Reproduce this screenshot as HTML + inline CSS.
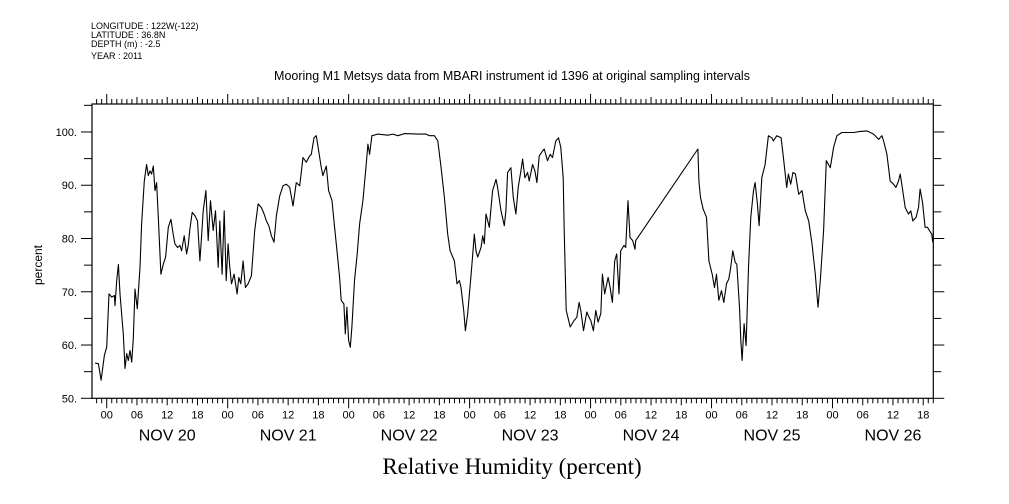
<!DOCTYPE html>
<html><head><meta charset="utf-8"><style>
html,body{margin:0;padding:0;background:#fff;}
svg{display:block;}
text{font-family:"Liberation Sans",sans-serif;fill:#000;}
</style></head><body>
<svg id="chart" width="1009" height="504" viewBox="0 0 1009 504" xmlns="http://www.w3.org/2000/svg">
<g font-size="9">
<text x="91" y="29">LONGITUDE : 122W(-122)</text>
<text x="91" y="38">LATITUDE : 36.8N</text>
<text x="91" y="47">DEPTH (m) : -2.5</text>
<text x="91" y="59">YEAR : 2011</text>
</g>
<text x="512" y="80" text-anchor="middle" font-size="12.5">Mooring M1 Metsys data from MBARI instrument id 1396 at original sampling intervals</text>
<text transform="translate(42,265) rotate(-90)" text-anchor="middle" font-size="12">percent</text>
<text x="512" y="474" text-anchor="middle" font-size="23" style="font-family:'Liberation Serif',serif">Relative Humidity (percent)</text>
<g id="axes"></g>
<g id="series"></g>
</svg>
<script>
const hours = [-2.31,-1.65,-1.12,-0.46,0,0.46,0.99,1.52,1.65,1.98,2.31,2.64,3.30,3.63,3.96,4.29,4.62,4.95,5.28,5.61,6.07,6.60,6.93,7.46,7.92,8.25,8.58,8.91,9.24,9.57,9.90,10.23,10.76,11.22,11.68,12.21,12.74,13.20,13.53,14.06,14.52,14.85,15.38,15.84,16.17,16.50,16.96,17.49,18.02,18.48,18.81,19.14,19.67,20.13,20.59,21.12,21.58,22.11,22.44,22.90,23.30,23.70,24.09,24.42,24.75,25.28,25.87,26.20,26.60,27.06,27.52,28.05,28.71,29.37,30.03,30.69,31.22,31.68,32.15,32.67,33.20,33.66,34.32,34.98,35.64,36.30,36.96,37.62,38.28,38.94,39.60,40.26,40.59,41.12,41.58,42.05,42.57,42.90,43.56,44.03,44.69,45.21,45.74,46.20,46.53,47.06,47.33,47.66,47.99,48.32,48.65,49.17,49.70,50.17,50.83,51.49,51.82,52.15,52.61,53.80,55.78,56.77,57.76,59.08,61.72,63.37,64.03,65.02,65.68,66.34,67.00,67.66,68.12,68.98,69.50,69.97,70.30,70.83,71.16,71.62,72.41,72.94,73.27,73.60,74.26,74.59,74.92,75.25,75.91,76.57,77.23,77.56,78.22,78.88,79.21,79.54,80.20,80.66,81.19,81.65,82.18,82.51,82.97,83.50,83.83,84.49,84.95,85.35,85.81,86.47,86.80,87.46,87.99,88.45,89.11,89.64,90.10,90.56,90.76,90.96,91.16,91.95,92.74,93.27,93.73,94.06,94.59,95.25,95.71,96.04,96.57,97.03,97.49,98.02,98.35,98.81,99.47,99.87,100.33,100.79,101.19,101.65,101.98,102.64,102.97,103.43,103.83,104.36,104.82,104.95,117.29,117.49,117.82,118.35,119.01,119.47,120.13,120.59,120.99,121.45,121.98,122.44,122.97,123.43,123.76,124.22,124.69,125.02,125.54,125.81,126.07,126.47,126.86,127.33,127.79,128.32,128.65,129.11,129.44,129.97,130.63,131.29,131.95,132.28,132.94,133.80,134.26,134.92,135.25,135.71,136.17,136.63,137.29,137.95,138.61,139.27,139.93,140.59,141.12,141.58,142.24,142.77,143.56,144.22,144.88,145.87,148.18,149.50,150.82,152.15,153.14,153.80,154.13,154.79,155.45,156.11,156.57,157.10,157.43,157.76,158.42,159.08,159.54,159.93,160.59,161.06,161.39,161.85,162.38,162.84,163.23,163.70,163.89];
const humidity = [56.6,56.5,53.4,58.1,59.6,69.6,69.0,69.3,67.4,72.1,75.1,69.6,62.1,55.6,58.4,57.1,59.0,56.8,61.2,70.5,66.8,74.6,82.7,90.8,93.9,91.8,92.7,92.1,93.6,89.0,90.5,84.0,73.3,75.2,76.5,82.1,83.6,80.8,79.0,78.3,78.7,77.7,80.5,77.1,78.7,81.8,84.9,84.3,83.3,75.8,80.2,85.2,89.0,79.6,87.1,81.5,85.2,74.6,83.3,73.3,85.2,72.1,79.0,74.6,71.5,73.3,69.6,72.7,71.5,75.8,70.8,71.5,73.0,81.5,86.5,85.8,84.6,83.3,82.4,80.5,79.3,84.3,88.0,89.9,90.2,89.6,86.1,90.5,89.9,95.2,94.3,95.5,95.8,98.9,99.3,96.4,93.3,91.8,93.6,89.0,87.1,82.1,77.1,72.7,68.4,67.7,62.1,67.1,60.9,59.6,63.4,72.1,77.1,82.7,87.1,93.9,97.7,95.8,99.3,99.6,99.4,99.6,99.3,99.7,99.6,99.6,99.3,99.3,98.3,93.3,87.7,80.8,77.7,75.8,71.5,72.1,70.8,66.5,62.7,65.9,74.6,80.8,77.7,76.5,78.3,80.5,79.0,84.6,82.1,89.0,91.1,89.6,85.2,82.4,85.2,92.4,93.3,87.7,84.6,89.6,92.7,94.9,91.4,92.4,90.8,93.9,92.7,90.5,95.5,96.4,96.8,94.6,95.8,95.2,98.3,98.9,97.1,91.4,81.5,74.0,66.5,63.4,64.6,65.2,68.0,66.5,62.7,66.2,65.2,64.6,62.7,66.5,64.3,65.9,73.3,69.6,72.7,70.8,68.0,75.8,77.1,69.6,77.7,78.7,78.3,87.1,80.2,79.6,78.0,79.6,96.8,90.8,87.7,85.5,84.0,75.8,73.3,70.8,73.3,68.4,70.2,68.0,71.5,72.4,74.3,77.7,75.5,75.2,67.1,60.9,57.1,64.0,59.9,74.6,84.0,89.0,90.5,86.5,82.4,91.4,93.9,99.3,98.9,98.3,99.3,98.9,95.2,89.6,92.1,90.2,92.4,92.1,88.3,89.0,85.2,83.3,79.0,73.3,67.1,72.1,81.5,94.6,93.3,97.1,99.3,99.9,99.9,100.1,100.2,99.6,98.6,99.3,98.3,95.8,90.8,90.2,89.6,90.8,92.1,90.2,85.8,84.6,85.2,83.3,84.0,85.8,89.3,86.8,82.1,82.1,81.5,80.8,79.3];
const yTicks = [50,60,70,80,90,100];
const yTickLabels = ["50.","60.","70.","80.","90.","100."];
const hourLabels = ["00","06","12","18"];
const dayLabels = ["NOV 20","NOV 21","NOV 22","NOV 23","NOV 24","NOV 25","NOV 26"];

const NS="http://www.w3.org/2000/svg";
const L=92, R=933.3, T=104, B=398.3;
const hMin=-2.92, hMax=164.0, vMin=50, vMax=105.25;
function xs(h){return L+(h-hMin)/(hMax-hMin)*(R-L);}
function ys(v){return B-(v-vMin)/(vMax-vMin)*(B-T);}
function mk(tag,attrs,parent){const e=document.createElementNS(NS,tag);for(const k in attrs)e.setAttribute(k,attrs[k]);parent.appendChild(e);return e;}
const axes=document.getElementById('axes');
const frame=mk('rect',{x:L,y:T,width:R-L,height:B-T,fill:'none',stroke:'#000','stroke-width':1.2},axes);


// y ticks
for(let v=50;v<=105;v+=5){
  const y=ys(v), major=(v%10===0);
  const len=major?11:8;
  const tl=mk('line',{x1:L-len,x2:L,y1:y,y2:y,stroke:'#000','stroke-width':1},axes);
  
  
  const tr=mk('line',{x1:R,x2:R+len,y1:y,y2:y,stroke:'#000','stroke-width':1},axes);
  
  
}
yTicks.forEach((v,i)=>{
  const t=mk('text',{x:L-15,y:ys(v)+4,'text-anchor':'end','font-size':11},axes);
  t.textContent=yTickLabels[i];
  
  
});
// x ticks hourly
for(let h=Math.ceil(hMin);h<=hMax;h++){
  const x=xs(h);
  const len=(h%24===0)?10:(h%6===0?7:5);
  const tb=mk('line',{x1:x,x2:x,y1:B,y2:B+len,stroke:'#000','stroke-width':1},axes);
  
  
  const tt=mk('line',{x1:x,x2:x,y1:T,y2:T-len,stroke:'#000','stroke-width':1},axes);
  
  
  if(h%6===0){
    const t=mk('text',{x:x,y:B+20,'text-anchor':'middle','font-size':11},axes);
    t.textContent=hourLabels[((h/6)%4+4)%4];
    
    
  }
}
dayLabels.forEach((d,i)=>{
  const t=mk('text',{x:xs(i*24+12),y:B+42,'text-anchor':'middle','font-size':16},axes);
  t.textContent=d;
  
  
});
// series
const pts=hours.map((h,i)=>xs(h).toFixed(1)+','+ys(humidity[i]).toFixed(1)).join(' ');
const line=mk('polyline',{points:pts,fill:'none',stroke:'#000','stroke-width':1.1,'stroke-linejoin':'round'},document.getElementById('series'));


</script>
</body></html>
